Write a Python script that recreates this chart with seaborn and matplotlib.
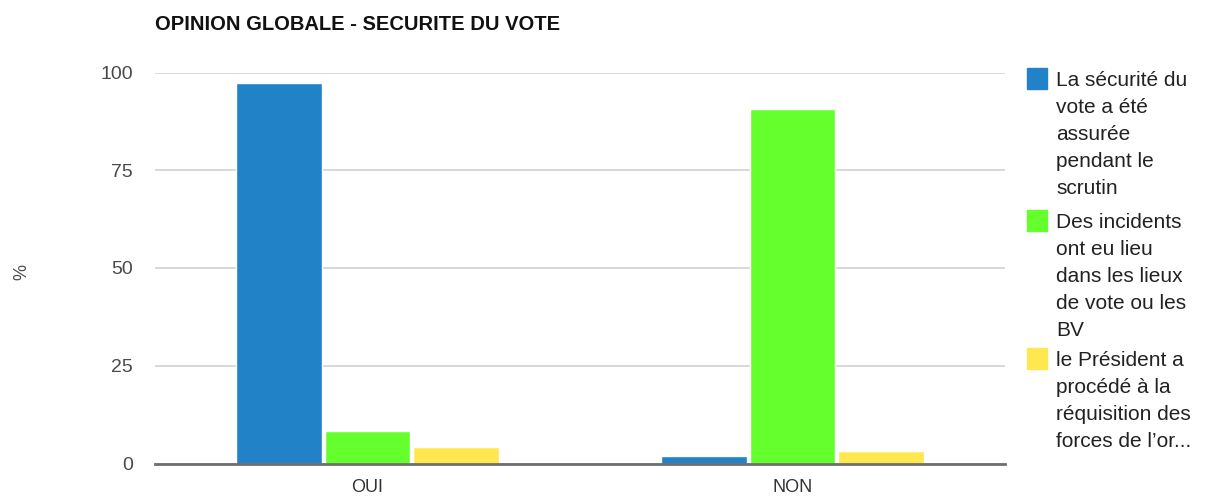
import matplotlib
matplotlib.use("Agg")
import matplotlib.pyplot as plt
from matplotlib.patches import Rectangle
import pandas as pd
import seaborn as sns

categories = ["OUI", "NON"]
series_names = [
    "La sécurité du vote a été assurée pendant le scrutin",
    "Des incidents ont eu lieu dans les lieux de vote ou les BV",
    "le Président a procédé à la réquisition des forces de l'or...",
]
legend_labels = [
    "La sécurité du\nvote a été\nassurée\npendant le\nscrutin",
    "Des incidents\nont eu lieu\ndans les lieux\nde vote ou les\nBV",
    "le Président a\nprocédé à la\nréquisition des\nforces de l\u2019or...",
]
securite = [97.2, 1.9]
incidents = [8.3, 90.6]
requisition = [4.1, 3.1]
colors = ["#2182c7", "#66ff2e", "#ffe84f"]
y_ticks = [0, 25, 50, 75, 100]

rows = []
for name, vals in zip(series_names, [securite, incidents, requisition]):
    for cat, v in zip(categories, vals):
        rows.append({"categorie": cat, "serie": name, "valeur": v})
df = pd.DataFrame(rows)

sns.set_style("white")
plt.rcParams["font.family"] = ["Liberation Sans", "DejaVu Sans"]

W, H = 1215, 496
fig = plt.figure(figsize=(W / 100, H / 100), dpi=100)
ax = fig.add_axes([155 / W, 1 - 463.5 / H, 850 / W, (463.5 - 72.5) / H])

sns.barplot(data=df, x="categorie", y="valeur", hue="serie", order=categories,
            hue_order=series_names, palette=colors, width=0.622, gap=0.025,
            saturation=1, legend=False, ax=ax, zorder=3)

ax.set_xlim(-0.5, 1.5)
ax.set_ylim(0, 100)
ax.set_yticks(y_ticks)
ax.yaxis.grid(True, color="#d2d2d2", linewidth=1.2, zorder=0)
ax.set_axisbelow(True)
for s in ["left", "right", "top"]:
    ax.spines[s].set_visible(False)
ax.spines["bottom"].set_color("#6e6e6e")
ax.spines["bottom"].set_linewidth(2)
ax.spines["bottom"].set_zorder(4)
ax.tick_params(axis="y", length=0, labelsize=14, colors="#4a4a4a", pad=16)
ax.tick_params(axis="x", length=0, labelsize=13, colors="#333333", pad=11.5)
ax.set_xlabel("")
ax.set_ylabel("%", fontsize=13, color="#4a4a4a")
ax.yaxis.set_label_coords(-133 / 850, 0.49)
ax.yaxis.label.set_verticalalignment("center")

fig.text(155 / W, 1 - 25 / H, "OPINION GLOBALE - SECURITE DU VOTE",
         fontsize=14.5, fontweight="bold", color="#111111", va="center", ha="left")

# legend drawn beside the plot area
entry_tops = [68, 210, 348]
for lab, col, top in zip(legend_labels, colors, entry_tops):
    fig.patches.append(Rectangle((1027 / W, 1 - (top + 21) / H), 20 / W, 21 / H,
                                 transform=fig.transFigure, color=col, zorder=5))
    fig.text(1056 / W, 1 - (top + 3) / H, lab, fontsize=15, color="#222222",
             va="top", ha="left", linespacing=1.53)

fig.savefig("out.png", dpi=100)
